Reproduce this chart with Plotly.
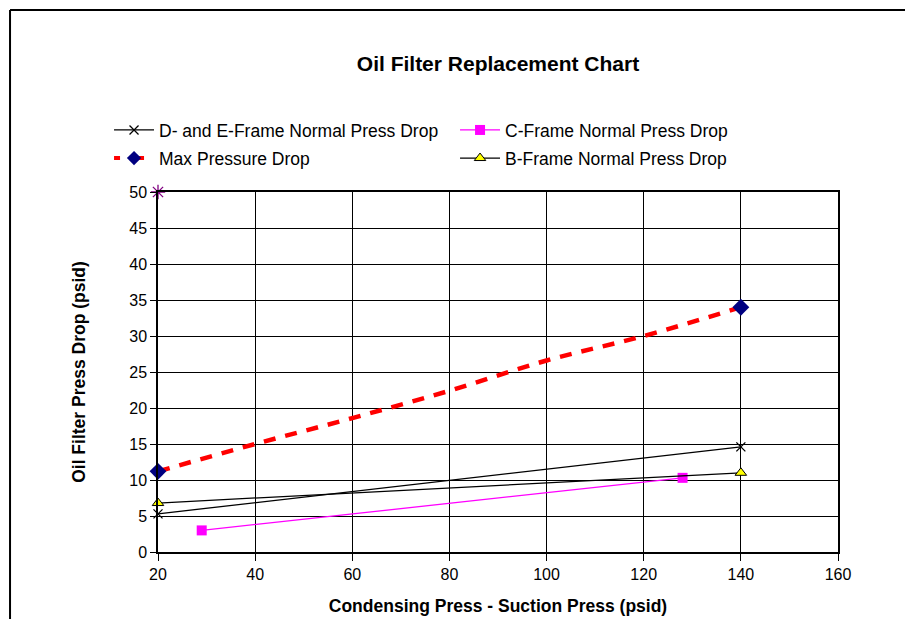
"""Oil filter replacement chart."""

import plotly.graph_objects as go

# ---------------------------------------------------------------------------
# Data
# ---------------------------------------------------------------------------

de_x = [20, 140]
de_y = [5.3, 14.6]

c_x = [29, 128]
c_y = [3.0, 10.3]

max_x = [20, 40, 60, 80, 100, 120, 140]
max_y = [11.2, 15.0, 18.6, 22.4, 26.6, 30.0, 34.0]
max_marker_colors = ["#000080", "rgba(0,0,0,0)", "rgba(0,0,0,0)", "rgba(0,0,0,0)",
                     "rgba(0,0,0,0)", "rgba(0,0,0,0)", "#000080"]

b_x = [20, 140]
b_y = [6.8, 11.0]

stray_x = [20]
stray_y = [50]

FONT = "Liberation Sans, Arial, sans-serif"

fig = go.Figure()

fig.add_trace(
    go.Scatter(
        x=de_x,
        y=de_y,
        mode="lines+markers",
        name="D- and E-Frame Normal Press Drop",
        line=dict(color="black", width=1.3),
        marker=dict(symbol="x-thin", size=9, line=dict(color="black", width=1.3)),
        cliponaxis=False,
        legend="legend",
    )
)
fig.add_trace(
    go.Scatter(
        x=c_x,
        y=c_y,
        mode="lines+markers",
        name="C-Frame Normal Press Drop",
        line=dict(color="#FF00FF", width=1.3),
        marker=dict(symbol="square", size=10, color="#FF00FF"),
        cliponaxis=False,
        legend="legend",
    )
)
fig.add_trace(
    go.Scatter(
        x=max_x,
        y=max_y,
        mode="lines+markers",
        name="Max Pressure Drop",
        line=dict(color="#FF0000", width=4.5, dash="12px,10px", shape="spline"),
        marker=dict(symbol="diamond", size=13, color=max_marker_colors),
        cliponaxis=False,
        showlegend=False,
    )
)
# legend key for the max-pressure series (short dashes either side of the diamond)
fig.add_trace(
    go.Scatter(
        x=[None],
        y=[None],
        mode="lines+markers",
        name="Max Pressure Drop",
        line=dict(color="#FF0000", width=4, dash="6px,18px"),
        marker=dict(symbol="diamond", size=11, color="#000080"),
        legend="legend2",
    )
)
fig.add_trace(
    go.Scatter(
        x=b_x,
        y=b_y,
        mode="lines+markers",
        name="B-Frame Normal Press Drop",
        line=dict(color="black", width=1.3),
        marker=dict(symbol="triangle-up", size=10, color="#FFFF00",
                    line=dict(color="black", width=1)),
        cliponaxis=False,
        legend="legend2",
    )
)
fig.add_trace(
    go.Scatter(
        x=stray_x,
        y=stray_y,
        mode="markers",
        showlegend=False,
        marker=dict(symbol="asterisk", size=12, line=dict(color="#800080", width=1.3)),
        cliponaxis=False,
    )
)

# outer chart frame (top and left edges visible in the reference)
fig.add_shape(type="line", xref="paper", yref="paper", x0=-0.2176, x1=1.12,
              y0=1.5056, y1=1.5056, line=dict(color="black", width=2))
fig.add_shape(type="line", xref="paper", yref="paper", x0=-0.2176, x1=-0.2176,
              y0=1.5056, y1=-0.3, line=dict(color="black", width=2))

legend_common = dict(
    orientation="h",
    x=-0.072,
    xanchor="left",
    yanchor="middle",
    entrywidth=291,
    entrywidthmode="pixels",
    font=dict(size=17.5, family=FONT),
    bgcolor="rgba(0,0,0,0)",
    itemwidth=40,
)

fig.update_layout(
    width=905,
    height=611,
    margin=dict(l=150, r=75, t=184, b=67),
    paper_bgcolor="white",
    plot_bgcolor="white",
    font=dict(family=FONT, size=16, color="black"),
    title=dict(
        text="<b>Oil Filter Replacement Chart</b>",
        x=0.5,
        xanchor="center",
        xref="paper",
        y=1 - 56 / 611,
        yanchor="middle",
        font=dict(size=21, family=FONT),
    ),
    legend=dict(y=1.172, **legend_common),
    legend2=dict(y=1.094, **legend_common),
    xaxis=dict(
        range=[20, 160],
        dtick=20,
        tick0=20,
        showgrid=True,
        gridcolor="black",
        gridwidth=1,
        showline=True,
        linecolor="black",
        linewidth=1.5,
        mirror=True,
        ticks="outside",
        ticklen=7,
        tickcolor="black",
        zeroline=False,
        automargin=False,
        tickfont=dict(size=16),
        title=dict(text="<b>Condensing Press - Suction Press (psid)</b>",
                   font=dict(size=17.5), standoff=18),
    ),
    yaxis=dict(
        range=[0, 50],
        dtick=5,
        showgrid=True,
        gridcolor="black",
        gridwidth=1,
        showline=True,
        linecolor="black",
        linewidth=1.5,
        mirror=True,
        ticks="outside",
        ticklen=6,
        tickcolor="black",
        zeroline=False,
        tickfont=dict(size=16),
        title=dict(text="<b>Oil Filter Press Drop (psid)</b>",
                   font=dict(size=17.5), standoff=39),
    ),
)

fig.write_html("out.html")
